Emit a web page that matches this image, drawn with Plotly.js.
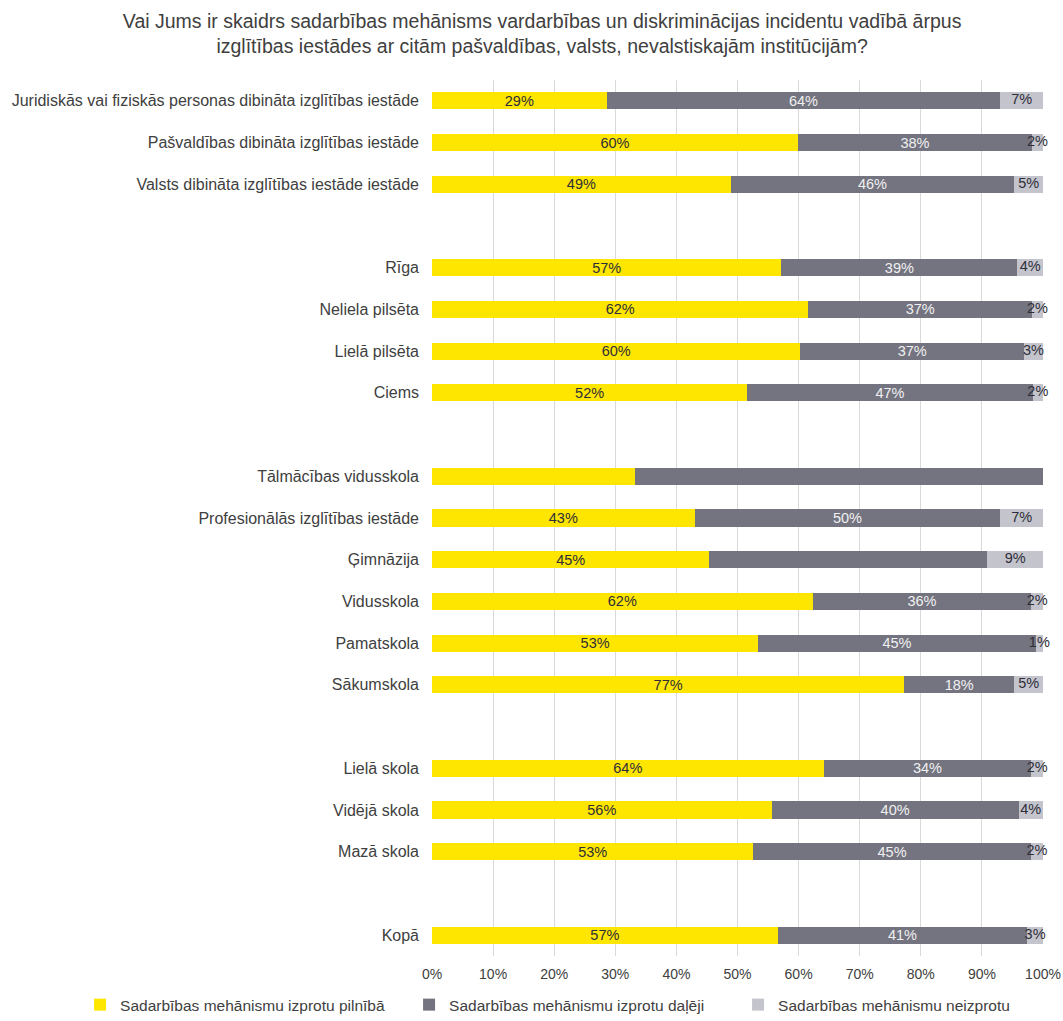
<!DOCTYPE html>
<html>
<head>
<meta charset="utf-8">
<script src="https://cdn.plot.ly/plotly-3.0.1.min.js"></script>
<style>html,body{margin:0;padding:0;background:#fff;}#chart{width:1063px;height:1021px;}</style>
</head>
<body>
<div id="chart"></div>
<script>
// Categories top to bottom; zero-width-space entries are empty spacer rows
const categories = [
  'Juridiskās vai fiziskās personas dibināta izglītības iestāde',
  'Pašvaldības dibināta izglītības iestāde',
  'Valsts dibināta izglītības iestāde iestāde',
  '\u200b',
  'Rīga',
  'Neliela pilsēta',
  'Lielā pilsēta',
  'Ciems',
  '\u200b\u200b',
  'Tālmācības vidusskola',
  'Profesionālās izglītības iestāde',
  'Ģimnāzija',
  'Vidusskola',
  'Pamatskola',
  'Sākumskola',
  '\u200b\u200b\u200b',
  'Lielā skola',
  'Vidējā skola',
  'Mazā skola',
  '\u200b\u200b\u200b\u200b',
  'Kopā'
];

const seriesNames = [
  'Sadarbības mehānismu izprotu pilnībā',
  'Sadarbības mehānismu izprotu daļēji',
  'Sadarbības mehānismu neizprotu'
];

const fully = [28.6, 59.9, 48.9, null, 57.2, 61.6, 60.3, 51.6, null, 33.3, 43.0, 45.4, 62.3, 53.4, 77.3, null, 64.1, 55.6, 52.6, null, 56.6];
const partly = [64.4, 38.3, 46.4, null, 38.6, 36.6, 36.6, 46.7, null, 66.7, 50.0, 45.5, 35.8, 45.4, 18.0, null, 34.0, 40.4, 45.4, null, 40.8];
const notAtAll = [7.0, 1.8, 4.7, null, 4.2, 1.8, 3.1, 1.7, null, 0, 7.0, 9.1, 1.9, 1.2, 4.7, null, 1.9, 4.0, 2.0, null, 2.6];

// Data labels that are not shown in the reference (1 = hidden)
const hideFully = [0,0,0,0,0,0,0,0,0,1,0,0,0,0,0,0,0,0,0,0,0];
const hidePartly = [0,0,0,0,0,0,0,0,0,1,0,1,0,0,0,0,0,0,0,0,0];
const hideNot = [0,0,0,0,0,0,0,0,0,1,0,0,0,0,0,0,0,0,0,0,0];

const tickVals = [0, 10, 20, 30, 40, 50, 60, 70, 80, 90, 100];
const tickText = ['0%', '10%', '20%', '30%', '40%', '50%', '60%', '70%', '80%', '90%', '100%'];

const colors = ['#FFE600', '#747480', '#C4C4CD'];
const textColors = ['#2e2e38', '#f0f0f0', '#2e2e38'];

function labels(vals, hide) {
  return vals.map((v, i) => (v == null || hide[i]) ? '' : Math.round(v) + '%');
}

const seriesVals = [fully, partly, notAtAll];
const hides = [hideFully, hidePartly, hideNot];

const FONT = 'Liberation Sans, Arial, sans-serif';
const LABEL_SIZE = 14.5;

const traces = seriesVals.map((vals, k) => ({
  type: 'bar',
  orientation: 'h',
  name: seriesNames[k],
  y: categories,
  x: vals,
  text: k < 2 ? labels(vals, hides[k]) : undefined,
  texttemplate: k < 2 ? '%{text}' : undefined,
  textposition: k < 2 ? 'inside' : 'none',
  insidetextanchor: 'middle',
  textangle: 0,
  constraintext: 'none',
  cliponaxis: false,
  textfont: {family: FONT, size: LABEL_SIZE, color: textColors[k]},
  marker: {color: colors[k], line: {width: 0}},
  hoverinfo: 'skip'
}));

// Labels of the third (small) segment, centred on that segment and allowed to overflow it
traces.push({
  type: 'scatter',
  mode: 'text',
  y: categories,
  x: notAtAll.map((v, i) => v == null ? null : fully[i] + partly[i] + v / 2),
  text: labels(notAtAll, hideNot),
  textposition: 'middle center',
  textfont: {family: FONT, size: LABEL_SIZE, color: textColors[2]},
  cliponaxis: false,
  showlegend: false,
  hoverinfo: 'skip'
});

const layout = {
  width: 1063,
  height: 1021,
  barmode: 'stack',
  bargap: 0.59,
  paper_bgcolor: '#ffffff',
  plot_bgcolor: '#ffffff',
  font: {family: FONT, color: '#404040'},
  uniformtext: {mode: 'show', minsize: LABEL_SIZE},
  title: {
    text: 'Vai Jums ir skaidrs sadarbības mehānisms vardarbības un diskriminācijas incidentu vadībā ārpus<br>izglītības iestādes ar citām pašvaldības, valsts, nevalstiskajām institūcijām?',
    font: {family: FONT, size: 19.5, color: '#404040'},
    x: 0.51,
    xref: 'container',
    xanchor: 'center',
    y: 0.973,
    yref: 'container',
    yanchor: 'middle'
  },
  margin: {l: 432, r: 20, t: 80, b: 65, autoexpand: false},
  xaxis: {
    range: [0, 100],
    tickvals: tickVals,
    ticktext: tickText,
    showgrid: true,
    gridcolor: '#d9d9d9',
    gridwidth: 1,
    zeroline: false,
    showline: false,
    ticks: '',
    ticklabelstandoff: 8,
    tickfont: {size: 14, color: '#404040'},
    fixedrange: true
  },
  yaxis: {
    type: 'category',
    categoryorder: 'array',
    categoryarray: categories,
    autorange: false,
    range: [categories.length - 0.5, -0.5],
    showgrid: false,
    zeroline: false,
    showline: false,
    ticks: '',
    ticklabelstandoff: 12,
    tickfont: {size: 16, color: '#404040'},
    fixedrange: true
  },
  showlegend: true,
  legend: {
    orientation: 'h',
    xref: 'paper',
    yref: 'paper',
    x: -0.576,
    xanchor: 'left',
    y: -0.056,
    yanchor: 'middle',
    traceorder: 'normal',
    entrywidth: 284,
    font: {size: 15.5, color: '#404040'},
    itemwidth: 30,
    bgcolor: 'rgba(0,0,0,0)'
  }
};

Plotly.newPlot('chart', traces, layout, {displayModeBar: false, staticPlot: true});
</script>
</body>
</html>
